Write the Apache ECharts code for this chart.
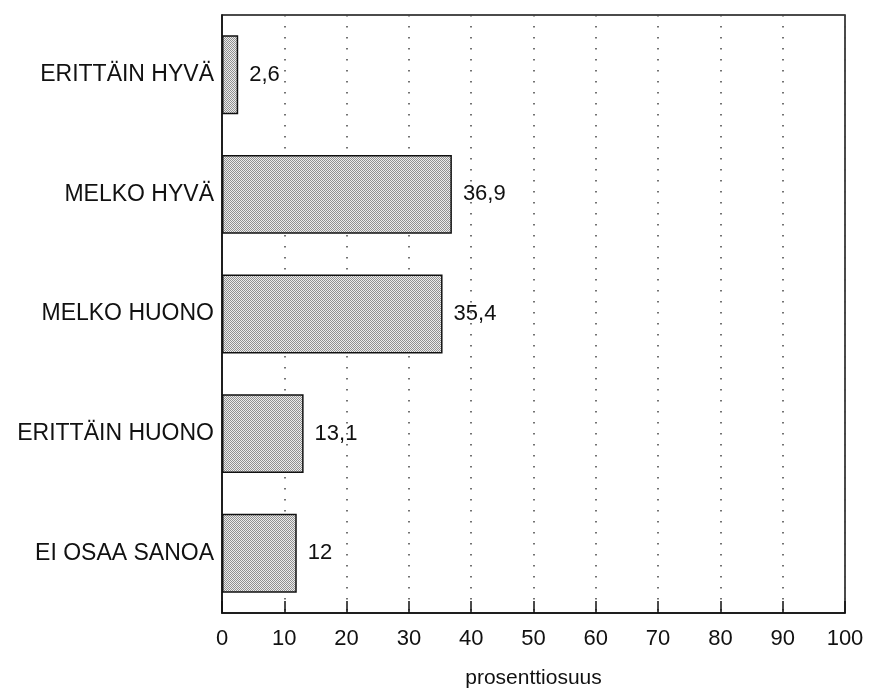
<!DOCTYPE html>
<html>
<head>
<meta charset="utf-8">
<script src="https://cdn.jsdelivr.net/npm/echarts@6/dist/echarts.min.js"></script>
<style>
  html, body { margin: 0; padding: 0; background: #fff; }
  #chart { width: 870px; height: 689px; }
</style>
</head>
<body>
<div id="chart"></div>
<script>
var categories = ["ERITTÄIN HYVÄ", "MELKO HYVÄ", "MELKO HUONO", "ERITTÄIN HUONO", "EI OSAA SANOA"];
var values = [2.6, 36.9, 35.4, 13.1, 12];
var axisName = "prosenttiosuus";

// stippled gray fill like the print
var pat = document.createElement("canvas");
pat.width = 2;
pat.height = 2;
var ctx = pat.getContext("2d");
ctx.fillStyle = "#ececec";
ctx.fillRect(0, 0, 2, 2);
ctx.fillStyle = "#909090";
ctx.fillRect(0, 0, 1, 1);
ctx.fillRect(1, 1, 1, 1);

var font = "'Liberation Sans', Arial, sans-serif";
var myChart = echarts.init(document.getElementById("chart"));
var option = {
  animation: false,
  backgroundColor: "#fff",
  grid: {
    left: 222,
    right: 25,
    top: 15,
    bottom: 76,
    containLabel: false,
    outerBoundsMode: "none",
    show: true,
    borderColor: "#111",
    borderWidth: 1.5,
    backgroundColor: "transparent"
  },
  xAxis: {
    type: "value",
    min: 0,
    max: 100,
    interval: 10,
    name: axisName,
    nameLocation: "middle",
    nameGap: 55,
    nameTextStyle: { fontFamily: font, fontSize: 21, color: "#111" },
    axisLine: { show: true, lineStyle: { color: "#111", width: 1.5 } },
    axisTick: { show: true, inside: true, length: 12, lineStyle: { color: "#111", width: 1.5 } },
    axisLabel: { fontFamily: font, fontSize: 22, color: "#111", margin: 15 },
    splitLine: {
      show: true,
      lineStyle: { color: "#444", type: [1.5, 9.5], width: 1.5 }
    }
  },
  yAxis: {
    type: "category",
    data: categories,
    inverse: true,
    axisLine: { show: true, lineStyle: { color: "#111", width: 1.5 } },
    axisTick: { show: false },
    axisLabel: { fontFamily: font, fontSize: 23, color: "#111", margin: 8 }
  },
  series: [
    {
      type: "bar",
      data: values,
      barCategoryGap: "34%",
      itemStyle: {
        color: { image: pat, repeat: "repeat" },
        borderColor: "#111",
        borderWidth: 1.5
      },
      label: {
        show: true,
        position: "right",
        distance: 11,
        fontFamily: font,
        fontSize: 22,
        color: "#111",
        formatter: function (p) {
          return String(p.value).replace(".", ",");
        }
      }
    }
  ]
};
myChart.setOption(option);
</script>
</body>
</html>
